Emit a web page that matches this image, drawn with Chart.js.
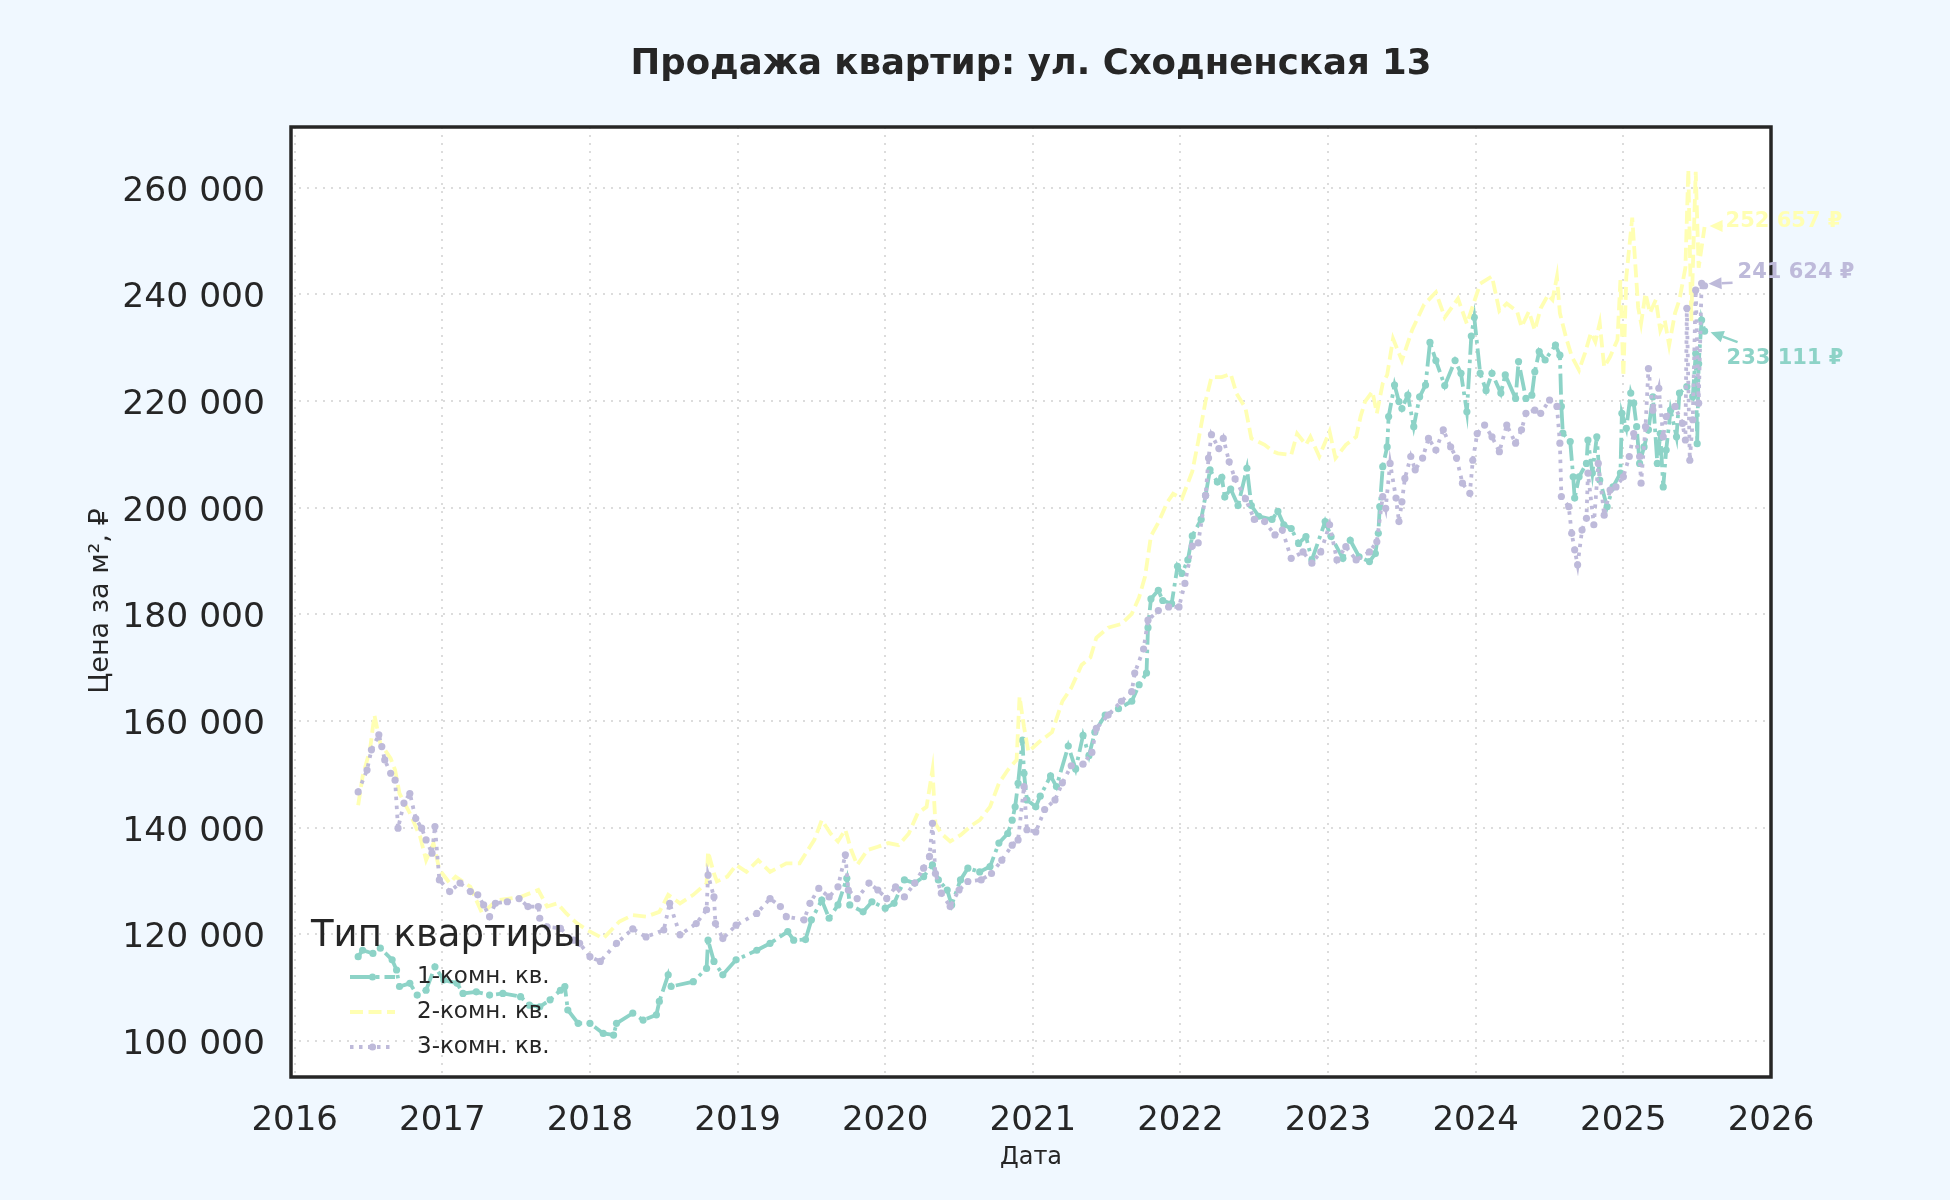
<!DOCTYPE html>
<html><head><meta charset="utf-8">
<script src="https://cdn.jsdelivr.net/npm/chart.js@4.4.1/dist/chart.umd.min.js"></script>
<style>html,body{margin:0;padding:0;background:#f0f8ff;}canvas{display:block;}</style>
</head><body>
<canvas id="c" width="1950" height="1200"></canvas>
<script>
// ---------- text ----------
const chartTitle = 'Продажа квартир: ул. Сходненская 13';
const xAxisTitle = 'Дата';
const yAxisTitle = 'Цена за м², ₽';
const legendTitle = 'Тип квартиры';
const seriesNames = ['1-комн. кв.', '2-комн. кв.', '3-комн. кв.'];

// ---------- data: [year (decimal), price per m²] ----------
const oneRoom = [[2016.43,115800],[2016.46,117000],[2016.53,116400],[2016.58,117400],[2016.66,115200],[2016.69,113300],[2016.71,110200],[2016.78,110800],[2016.83,108600],[2016.89,109500],[2016.95,113900],[2017.01,111400],[2017.10,110800],[2017.14,108900],[2017.23,109200],[2017.32,108600],[2017.41,108900],[2017.53,108300],[2017.59,106700],[2017.66,106400],[2017.73,107700],[2017.80,109500],[2017.83,110200],[2017.85,105800],[2017.92,103300],[2018.00,103300],[2018.09,101400],[2018.16,101100],[2018.18,103300],[2018.29,105200],[2018.36,103900],[2018.45,104900],[2018.47,107400],[2018.53,112400],[2018.55,110200],[2018.70,111100],[2018.79,113600],[2018.80,118900],[2018.84,114900],[2018.90,112400],[2018.99,115200],[2019.13,117000],[2019.22,118300],[2019.34,120500],[2019.38,118900],[2019.46,119000],[2019.50,122700],[2019.57,126400],[2019.62,123000],[2019.68,125500],[2019.74,130500],[2019.76,125500],[2019.85,124200],[2019.91,126100],[2020.00,124900],[2020.06,125800],[2020.13,130200],[2020.20,129600],[2020.26,130800],[2020.32,133000],[2020.36,130200],[2020.42,128300],[2020.45,125500],[2020.51,130200],[2020.56,132400],[2020.64,131700],[2020.71,132700],[2020.77,137100],[2020.83,138900],[2020.86,141400],[2020.88,143900],[2020.90,148300],[2020.93,156400],[2020.94,150200],[2020.96,145200],[2021.02,143900],[2021.05,145900],[2021.12,149700],[2021.16,147700],[2021.24,155300],[2021.29,151000],[2021.34,157300],[2021.38,153500],[2021.42,157900],[2021.49,161100],[2021.58,162300],[2021.67,163700],[2021.72,166800],[2021.77,169000],[2021.78,177500],[2021.80,182900],[2021.85,184500],[2021.88,182600],[2021.94,182000],[2021.98,189000],[2022.01,187700],[2022.05,190200],[2022.08,194700],[2022.14,197800],[2022.17,202300],[2022.20,207100],[2022.25,204800],[2022.28,205700],[2022.30,202000],[2022.34,203500],[2022.39,200400],[2022.45,207400],[2022.48,200400],[2022.53,198400],[2022.62,197800],[2022.66,199300],[2022.70,196800],[2022.75,196100],[2022.80,193300],[2022.85,194600],[2022.89,190200],[2022.98,197400],[2023.02,194600],[2023.10,190500],[2023.15,193900],[2023.21,190800],[2023.28,189900],[2023.32,191400],[2023.34,195200],[2023.35,200200],[2023.37,207700],[2023.40,211400],[2023.41,217100],[2023.45,223000],[2023.48,219900],[2023.50,218600],[2023.54,221100],[2023.58,215200],[2023.62,220800],[2023.66,223000],[2023.69,231000],[2023.73,227600],[2023.79,222900],[2023.86,227600],[2023.90,225200],[2023.94,218000],[2023.97,232200],[2023.99,235700],[2024.03,225200],[2024.07,222000],[2024.11,225200],[2024.17,221500],[2024.20,224900],[2024.27,220500],[2024.29,227400],[2024.34,220500],[2024.38,221100],[2024.40,225500],[2024.43,229300],[2024.47,227700],[2024.54,230500],[2024.57,228600],[2024.58,219000],[2024.59,214000],[2024.64,212400],[2024.66,205800],[2024.67,201800],[2024.70,205800],[2024.75,208300],[2024.76,212700],[2024.79,206500],[2024.82,213300],[2024.84,205200],[2024.89,200200],[2024.93,203900],[2024.98,206500],[2024.99,217700],[2025.02,214900],[2025.05,221500],[2025.07,219600],[2025.09,215200],[2025.11,208300],[2025.14,211400],[2025.17,214600],[2025.20,220800],[2025.23,208300],[2025.25,213900],[2025.27,203900],[2025.29,210800],[2025.32,218300],[2025.36,213300],[2025.38,221500],[2025.43,222700],[2025.47,220800],[2025.49,228900],[2025.50,212000],[2025.51,227000],[2025.53,235200],[2025.55,233111]];

const twoRoom = [[2016.43,144200],[2016.46,149600],[2016.51,154600],[2016.54,161100],[2016.58,155800],[2016.65,153000],[2016.68,150800],[2016.71,146400],[2016.78,142700],[2016.85,138300],[2016.89,133900],[2016.94,137100],[2016.98,132100],[2017.05,129600],[2017.09,130800],[2017.19,128900],[2017.27,123900],[2017.37,126400],[2017.53,127000],[2017.65,128300],[2017.71,125200],[2017.78,125800],[2017.84,123900],[2017.91,122100],[2017.98,120800],[2018.09,119200],[2018.20,122400],[2018.29,123600],[2018.38,123300],[2018.47,124200],[2018.53,127400],[2018.61,125800],[2018.70,127400],[2018.79,129600],[2018.80,135500],[2018.84,131400],[2018.86,129900],[2018.93,130800],[2018.99,133000],[2019.06,131700],[2019.14,133900],[2019.22,131700],[2019.33,133300],[2019.42,133300],[2019.49,136400],[2019.52,137700],[2019.57,141400],[2019.63,138900],[2019.68,137400],[2019.73,139600],[2019.77,135800],[2019.81,133000],[2019.88,135800],[2019.95,136400],[2020.02,137100],[2020.09,136700],[2020.16,138900],[2020.22,142700],[2020.28,143900],[2020.32,150800],[2020.34,140800],[2020.38,138900],[2020.44,137400],[2020.51,138600],[2020.59,140500],[2020.64,141400],[2020.71,143900],[2020.77,148300],[2020.83,150800],[2020.89,152700],[2020.91,164600],[2020.94,158900],[2020.97,154200],[2021.04,156000],[2021.13,157900],[2021.20,163700],[2021.26,166200],[2021.33,170500],[2021.39,171900],[2021.43,175600],[2021.51,177500],[2021.60,178200],[2021.67,180100],[2021.72,183200],[2021.76,187100],[2021.80,194700],[2021.85,197200],[2021.91,201000],[2021.95,202600],[2022.01,201700],[2022.08,206800],[2022.12,212400],[2022.17,220000],[2022.21,224500],[2022.28,224500],[2022.34,225100],[2022.38,221400],[2022.44,218700],[2022.48,213000],[2022.57,211800],[2022.63,210500],[2022.66,210200],[2022.75,209900],[2022.79,213900],[2022.85,211800],[2022.88,213300],[2022.94,209600],[2023.01,214300],[2023.05,209300],[2023.12,211800],[2023.19,213300],[2023.22,217100],[2023.25,219900],[2023.30,221800],[2023.33,217700],[2023.37,223300],[2023.40,224900],[2023.44,231700],[2023.50,227600],[2023.57,233400],[2023.65,238100],[2023.73,240400],[2023.79,235700],[2023.88,239200],[2023.94,234500],[2024.03,242000],[2024.11,243400],[2024.16,236900],[2024.21,238300],[2024.28,236800],[2024.31,233900],[2024.36,236800],[2024.40,233300],[2024.44,237400],[2024.49,239900],[2024.52,239000],[2024.55,243300],[2024.57,236500],[2024.61,232100],[2024.65,228400],[2024.70,225800],[2024.74,229000],[2024.78,232800],[2024.81,231100],[2024.84,234600],[2024.87,226400],[2024.91,228300],[2024.96,231500],[2024.98,242700],[2025.00,224600],[2025.02,243300],[2025.06,254400],[2025.10,237600],[2025.12,234600],[2025.15,240200],[2025.18,236500],[2025.22,239000],[2025.25,233300],[2025.28,235200],[2025.31,230500],[2025.35,236500],[2025.38,239000],[2025.42,245000],[2025.44,263400],[2025.46,235000],[2025.49,263000],[2025.51,245000],[2025.55,252657]];

const threeRoom = [[2016.43,146700],[2016.49,150800],[2016.52,154600],[2016.57,157400],[2016.59,155200],[2016.61,152700],[2016.65,150200],[2016.68,148900],[2016.70,139900],[2016.74,144600],[2016.78,146400],[2016.82,141700],[2016.86,139900],[2016.89,137700],[2016.93,135200],[2016.95,140200],[2016.98,130200],[2017.05,128000],[2017.12,129600],[2017.19,128000],[2017.24,127400],[2017.28,125500],[2017.32,123300],[2017.36,125800],[2017.44,126100],[2017.52,126700],[2017.58,125200],[2017.65,125200],[2017.66,123000],[2017.71,121400],[2017.80,121100],[2017.89,118900],[2017.93,118300],[2018.00,115800],[2018.07,114900],[2018.18,118300],[2018.29,121000],[2018.38,119500],[2018.50,120800],[2018.54,125800],[2018.61,119900],[2018.72,122000],[2018.79,124600],[2018.80,131100],[2018.84,127000],[2018.85,122000],[2018.90,119200],[2018.99,121700],[2019.13,123900],[2019.22,126700],[2019.29,125200],[2019.33,123300],[2019.45,122700],[2019.49,125800],[2019.55,128600],[2019.62,127000],[2019.68,128900],[2019.73,134900],[2019.75,128300],[2019.81,126700],[2019.89,129600],[2019.95,128300],[2020.01,126700],[2020.07,128900],[2020.13,127000],[2020.20,129600],[2020.26,132400],[2020.30,134600],[2020.32,140800],[2020.34,131400],[2020.38,127700],[2020.44,125200],[2020.50,128300],[2020.56,129900],[2020.65,130200],[2020.72,131400],[2020.79,133900],[2020.86,136700],[2020.90,137700],[2020.94,147700],[2020.96,139600],[2021.02,139200],[2021.08,143400],[2021.15,145200],[2021.20,148400],[2021.26,151600],[2021.34,151900],[2021.40,154100],[2021.43,158600],[2021.51,161100],[2021.60,163700],[2021.67,165500],[2021.69,169000],[2021.75,173500],[2021.78,178900],[2021.85,180700],[2021.92,181400],[2021.99,181400],[2022.03,185800],[2022.08,192800],[2022.12,193400],[2022.17,202300],[2022.19,209300],[2022.21,213700],[2022.26,211100],[2022.29,213000],[2022.33,208600],[2022.37,205400],[2022.44,201700],[2022.50,197800],[2022.57,197400],[2022.64,194900],[2022.69,195800],[2022.75,190500],[2022.83,191700],[2022.89,189600],[2022.95,191700],[2023.01,196800],[2023.06,190200],[2023.12,192700],[2023.19,190200],[2023.28,191700],[2023.33,193600],[2023.37,202100],[2023.39,199900],[2023.42,208300],[2023.46,201800],[2023.48,197400],[2023.50,201100],[2023.52,205500],[2023.56,209600],[2023.59,207100],[2023.64,209300],[2023.68,213000],[2023.73,210800],[2023.78,214600],[2023.83,211400],[2023.87,209300],[2023.91,204600],[2023.96,202700],[2023.98,208900],[2024.01,213900],[2024.06,215500],[2024.11,213300],[2024.16,210500],[2024.21,215500],[2024.27,212100],[2024.31,214600],[2024.34,217700],[2024.40,218300],[2024.44,217700],[2024.50,220200],[2024.55,219000],[2024.57,212100],[2024.58,202100],[2024.63,200200],[2024.65,195200],[2024.67,192100],[2024.69,189300],[2024.72,195800],[2024.75,198000],[2024.76,206500],[2024.80,196800],[2024.83,208300],[2024.87,198600],[2024.91,203300],[2024.95,203900],[2025.00,205800],[2025.04,209600],[2025.07,213900],[2025.11,209600],[2025.12,204600],[2025.15,215200],[2025.17,226100],[2025.20,218300],[2025.24,222400],[2025.27,213300],[2025.29,217100],[2025.35,219000],[2025.40,215800],[2025.42,212700],[2025.43,237400],[2025.45,208900],[2025.47,216500],[2025.49,240800],[2025.51,219600],[2025.53,242100],[2025.55,241624]];

// ---------- axes ----------
const xRange = [2015.975, 2026.0];
const xTicks = [2016, 2017, 2018, 2019, 2020, 2021, 2022, 2023, 2024, 2025, 2026];
const yRange = [93230, 271400];
const yTicks = [100000, 120000, 140000, 160000, 180000, 200000, 220000, 240000, 260000];

// ---------- styles ----------
const FONT = "'DejaVu Sans', sans-serif";
const TEXT = '#262626';
const colors = ['#8dd3c7', '#ffffb3', '#bebada'];
const dashes = [[21, 5, 3.5, 5], [13, 5.5], [3.5, 5.5]];
const radii = [3.6, 0, 3.6];
const layers = [3, 2, 1];
// label offsets (px) relative to last point: text, arrow tail, arrow tip
const annot = [
  {tx: 22, ty: 27, ax0: 33, ay0: 11, ax1: 6, ay1: 1},
  {tx: 21, ty: -5, ax0: 17, ay0: -1, ax1: 5, ay1: -1},
  {tx: 33, ty: -13, ax0: 28, ay0: -3, ax1: 4, ay1: -2}
];

const fmt = v => Math.round(v).toString().replace(/\B(?=(\d{3})+(?!\d))/g, ' ');
const allSeries = [oneRoom, twoRoom, threeRoom];

const datasets = allSeries.map((s, i) => ({
  label: seriesNames[i],
  data: s.map(p => ({x: p[0], y: p[1]})),
  borderColor: colors[i],
  backgroundColor: colors[i],
  borderWidth: 3.8,
  borderDash: dashes[i],
  pointRadius: radii[i],
  pointBorderWidth: 0,
  pointBackgroundColor: colors[i],
  tension: 0,
  order: layers[i]
}));

function drawArrow(ctx, x0, y0, x1, y1, color) {
  const ang = Math.atan2(y1 - y0, x1 - x0);
  const hl = 13, hw = 6;
  const bx = x1 - hl * Math.cos(ang), by = y1 - hl * Math.sin(ang);
  ctx.strokeStyle = color; ctx.fillStyle = color; ctx.lineWidth = 2.5; ctx.setLineDash([]);
  ctx.beginPath(); ctx.moveTo(x0, y0); ctx.lineTo(bx, by); ctx.stroke();
  ctx.beginPath();
  ctx.moveTo(x1, y1);
  ctx.lineTo(bx + hw * Math.sin(ang), by - hw * Math.cos(ang));
  ctx.lineTo(bx - hw * Math.sin(ang), by + hw * Math.cos(ang));
  ctx.closePath(); ctx.fill();
}

const decor = {
  id: 'decor',
  beforeDraw(chart) {
    const {ctx, chartArea: a} = chart;
    ctx.save();
    ctx.fillStyle = '#f0f8ff';
    ctx.fillRect(0, 0, chart.width, chart.height);
    ctx.fillStyle = '#ffffff';
    ctx.fillRect(a.left, a.top, a.right - a.left, a.bottom - a.top);
    ctx.restore();
  },
  afterDatasetsDraw(chart) {
    const {ctx, chartArea: a} = chart;
    ctx.save();
    ctx.fillStyle = TEXT;
    ctx.textBaseline = 'middle';
    ctx.textAlign = 'left';
    ctx.font = '37px ' + FONT;
    ctx.fillText(legendTitle, a.left + 20, a.bottom - 141);
    seriesNames.forEach((name, i) => {
      const y = a.bottom - 100 + i * 35;
      const x0 = a.left + 59, x1 = a.left + 104;
      ctx.strokeStyle = colors[i];
      ctx.lineWidth = 3.8;
      ctx.setLineDash(dashes[i]);
      ctx.beginPath(); ctx.moveTo(x0, y); ctx.lineTo(x1, y); ctx.stroke();
      ctx.setLineDash([]);
      if (radii[i] > 0) {
        ctx.fillStyle = colors[i];
        ctx.beginPath(); ctx.arc((x0 + x1) / 2, y, radii[i], 0, Math.PI * 2); ctx.fill();
      }
      ctx.fillStyle = TEXT;
      ctx.font = '23px ' + FONT;
      ctx.fillText(name, a.left + 126, y);
    });
    ctx.restore();
  },
  afterDraw(chart) {
    const {ctx, chartArea: a, scales} = chart;
    ctx.save();
    ctx.strokeStyle = TEXT;
    ctx.lineWidth = 3.5;
    ctx.setLineDash([]);
    ctx.strokeRect(a.left, a.top, a.right - a.left, a.bottom - a.top);
    const cx = (a.left + a.right) / 2;
    ctx.fillStyle = TEXT;
    ctx.textAlign = 'center';
    ctx.textBaseline = 'middle';
    ctx.font = 'bold 35.5px ' + FONT;
    ctx.fillText(chartTitle, cx, 65);
    ctx.font = '24px ' + FONT;
    ctx.fillText(xAxisTitle, cx, a.bottom + 81);
    ctx.save();
    ctx.translate(101, (a.top + a.bottom) / 2 - 1);
    ctx.rotate(-Math.PI / 2);
    ctx.font = '27px ' + FONT;
    ctx.fillText(yAxisTitle, 0, 0);
    ctx.restore();
    allSeries.forEach((s, i) => {
      const last = s[s.length - 1];
      const px = scales.x.getPixelForValue(last[0]);
      const py = scales.y.getPixelForValue(last[1]);
      const o = annot[i];
      drawArrow(ctx, px + o.ax0, py + o.ay0, px + o.ax1, py + o.ay1, colors[i]);
      ctx.fillStyle = colors[i];
      ctx.textAlign = 'left';
      ctx.font = 'bold 21px ' + FONT;
      ctx.fillText(fmt(last[1]) + ' ₽', px + o.tx, py + o.ty);
    });
    ctx.restore();
  }
};

new Chart(document.getElementById('c'), {
  type: 'line',
  data: {datasets},
  plugins: [decor],
  options: {
    responsive: false,
    animation: false,
    devicePixelRatio: 1,
    layout: {padding: {left: 0, right: 179, top: 127, bottom: 0}},
    plugins: {legend: {display: false}, title: {display: false}, tooltip: {enabled: false}},
    scales: {
      x: {
        type: 'linear', min: xRange[0], max: xRange[1],
        afterBuildTicks(s) { s.ticks = xTicks.map(v => ({value: v})); },
        afterFit(s) { s.height = 123; },
        border: {display: false, dash: [2, 6]},
        grid: {color: '#dcdcdc', lineWidth: 2, drawTicks: false},
        ticks: {autoSkip: false, maxRotation: 0, padding: 24, color: TEXT,
                font: {family: FONT, size: 34}, callback: v => Math.round(v).toString()}
      },
      y: {
        type: 'linear', min: yRange[0], max: yRange[1],
        afterBuildTicks(s) { s.ticks = yTicks.map(v => ({value: v})); },
        afterFit(s) { s.width = 291; },
        border: {display: false, dash: [2, 6]},
        grid: {color: '#dcdcdc', lineWidth: 2, drawTicks: false},
        ticks: {autoSkip: false, padding: 26, labelOffset: 4, color: TEXT,
                font: {family: FONT, size: 34.5}, callback: v => fmt(v)}
      }
    }
  }
});
</script>
</body></html>
